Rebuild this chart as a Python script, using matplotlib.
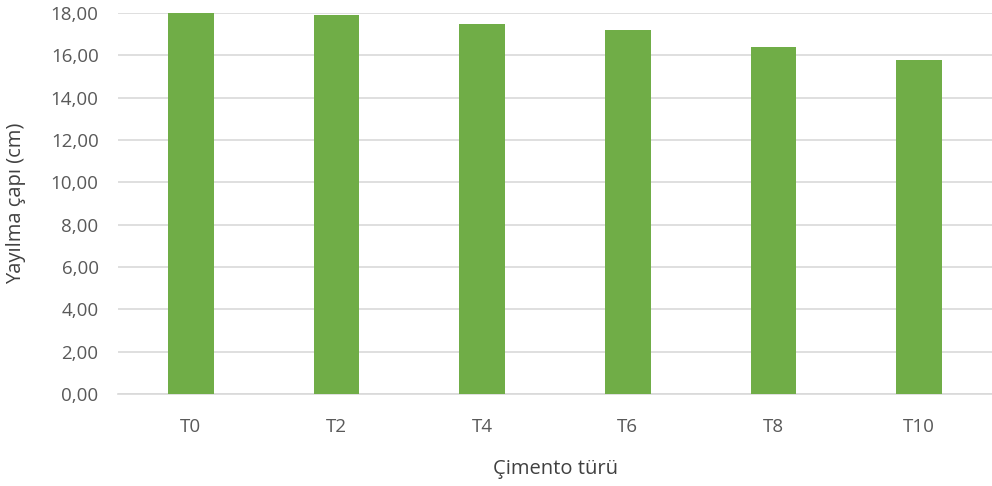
import numpy as np
import matplotlib.pyplot as plt
from matplotlib.ticker import FuncFormatter

cement_types = ['T0', 'T2', 'T4', 'T6', 'T8', 'T10']
spread_diameter = [18.00, 17.90, 17.48, 17.18, 16.38, 15.78]

plt.rcParams['font.family'] = ['Open Sans', 'DejaVu Sans']

fig = plt.figure(figsize=(9.92, 4.86), dpi=100)
ax = fig.add_axes([0.119, 0.189, 0.881, 0.784])

x = np.arange(len(cement_types))
ax.bar(x, spread_diameter, width=0.315, color='#70AD47', zorder=3)

ax.set_xlim(-0.5, len(cement_types) - 0.5)
ax.set_ylim(0, 18)
ax.set_yticks(np.arange(0, 19, 2))
ax.yaxis.set_major_formatter(FuncFormatter(lambda v, p: ('%.2f' % v).replace('.', ',')))
ax.set_xticks(x)
ax.set_xticklabels(cement_types)

ax.grid(axis='y', color='#D9D9D9', linewidth=1.2, zorder=0)
for s in ['top', 'right', 'left']:
    ax.spines[s].set_visible(False)
ax.spines['bottom'].set_color('#D9D9D9')
ax.spines['bottom'].set_linewidth(1.2)
ax.tick_params(axis='both', length=0, labelsize=13.5, colors='#595959')
ax.tick_params(axis='x', pad=17)
ax.tick_params(axis='y', pad=14)

ax.set_xlabel('Çimento türü', fontsize=14.5, color='#404040', labelpad=17)
ax.set_ylabel('Yayılma çapı (cm)', fontsize=14.5, color='#404040', labelpad=18)

fig.savefig('out.png', dpi=100)
